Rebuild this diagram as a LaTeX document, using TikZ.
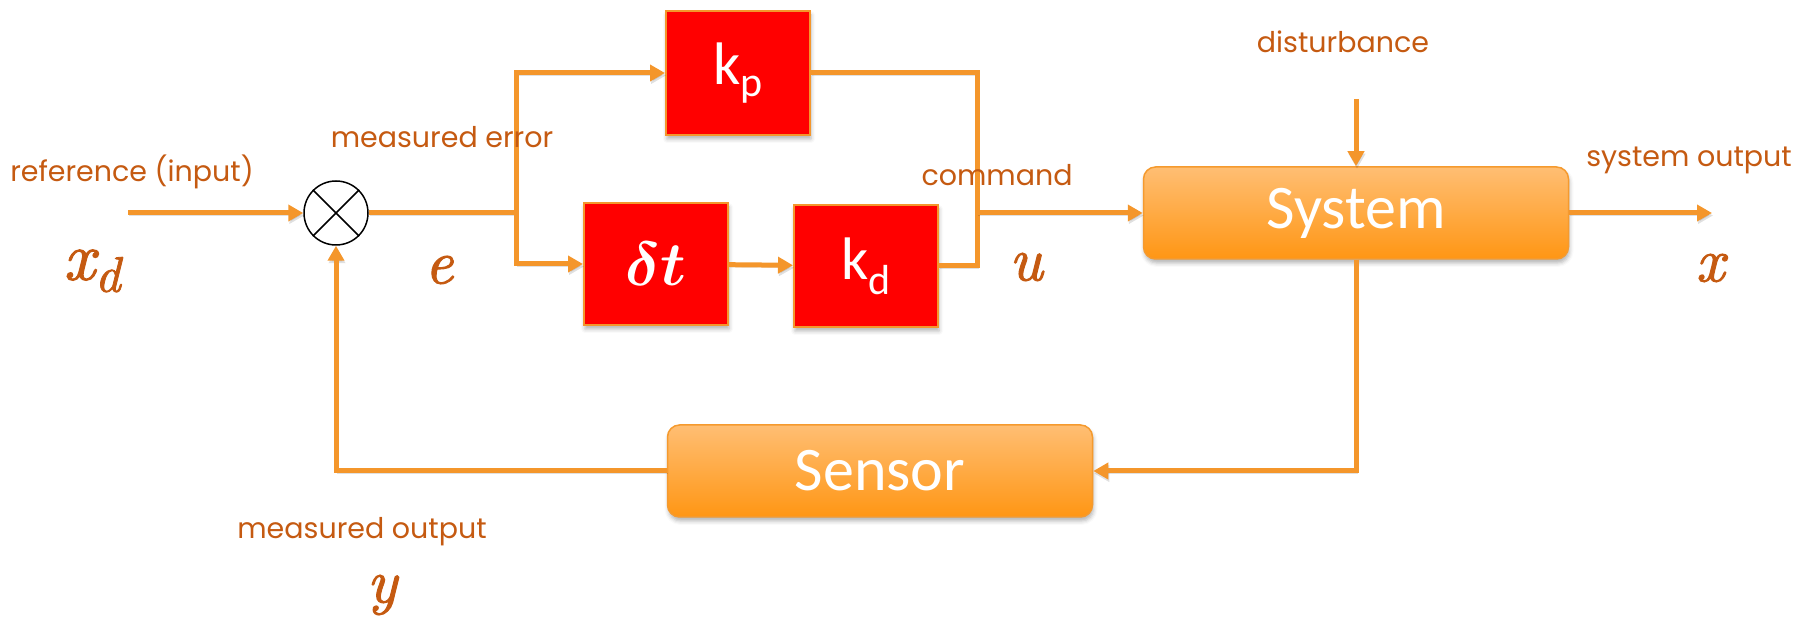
\documentclass[tikz,border=0pt]{standalone}
\usepackage{fix-cm}
\usepackage{bm}
\usepackage{fontspec}
\setmainfont{Poppins}
\newfontfamily\blockfont{Carlito}
\newfontfamily\varfont[FakeBold=1.6]{lmroman10-italic.otf}
\usetikzlibrary{arrows.meta,positioning,calc,shadows.blur}
\definecolor{wire}{HTML}{F4962B}
\definecolor{rust}{HTML}{C55A11}
\definecolor{gain}{HTML}{FF0000}
\definecolor{plantTop}{HTML}{FFBE73}
\definecolor{plantBot}{HTML}{FF9614}
\definecolor{plantLine}{HTML}{F59A2E}
\newcommand{\lowsub}[3]{\raisebox{-#2}{\fontsize{#3}{#3}\selectfont #1}}
\tikzset{
  wire/.style={line width=5pt,draw=wire,preaction={draw=black,opacity=0.12,transform canvas={xshift=1pt,yshift=-2.5pt}}},
  flow/.style={wire,-{Triangle[length=15pt,width=16pt]}},
  tag/.style={text=rust,inner sep=0pt,font=\fontsize{28.5}{32}\selectfont},
  sym/.style={text=rust,inner sep=0pt,font=\varfont\fontsize{62}{66}\selectfont},
  gainbox/.style={draw=wire,line width=2pt,fill=gain,minimum width=144pt,minimum height=122pt,text=white,font=\blockfont\fontsize{60}{64}\selectfont,blur shadow={shadow xshift=1pt,shadow yshift=-4pt,shadow blur radius=4pt,shadow opacity=30}},
  block/.style={draw=plantLine,line width=1.5pt,rounded corners=12pt,top color=plantTop,bottom color=plantBot,minimum width=425pt,minimum height=92pt,text=white,font=\blockfont\fontsize{62}{66}\selectfont,blur shadow={shadow xshift=1pt,shadow yshift=-4pt,shadow blur radius=4pt,shadow opacity=30}},
  summer/.style={circle,draw=black,line width=1.5pt,fill=white,minimum size=64pt,inner sep=0pt}
}
\begin{document}
\begin{tikzpicture}[x=1pt,y=1pt]
    \useasboundingbox (0,0) rectangle (1793,621);
    \node[summer] (sum) at (336,408) {};
    \draw[line width=1.5pt] (sum.45) -- (sum.225) (sum.135) -- (sum.-45);
    \coordinate (in) at (128,408);
    \coordinate (split) at (516,408);
    \coordinate (merge) at (977,408);

    \node[gainbox,minimum height=124pt] (kp) at (738,548) {k\lowsub{p}{12pt}{42}};
    \node[gainbox,font=\fontsize{62}{66}\selectfont] (dt) at (656,357) {$\bm{\delta t}$};
    \node[gainbox] (kd) at (866,355) {k\lowsub{d}{15pt}{42}};
    \node[block] (system) at (1356,408) {System};
    \node[block] (sensor) at (880,150) {Sensor};
    \coordinate (dist) at (1356,522);
    \coordinate (out) at (1712,408);

    \draw[flow] (in) -- (sum);
    \draw[wire] (sum) -- (split);
    \draw[flow] (split) |- (kp);
    \draw[flow] (split) |- (dt);
    \draw[flow] (dt) -- (kd);
    \draw[wire] (kp) -| (merge);
    \draw[wire] (kd) -| (merge);
    \draw[flow] (merge) -- (system);
    \draw[flow] (dist) -- (system);
    \draw[flow] (system) -- (out);
    \draw[flow] (system) |- (sensor);
    \draw[flow] (sensor) -| (sum);

    \node[tag] (reflabel) at (132,449) {reference (input)};
    \node[sym,font=\varfont\fontsize{68}{70}\selectfont] (xd) at (92,350) {x\lowsub{d}{12pt}{50}};
    \node[tag] (errlabel) at (442,484) {measured error};
    \node[sym] (elabel) at (439,351) {e};
    \node[tag] (cmdlabel) at (997,446) {command};
    \node[sym] (ulabel) at (1026,354) {u};
    \node[tag] (distlabel) at (1343,579) {disturbance};
    \node[tag] (outlabel) at (1689,461) {system output};
    \node[sym] (xlabel) at (1710,353) {x};
    \node[tag] (measlabel) at (362,89) {measured output};
    \node[sym] (ylabel) at (382,26) {y};
\end{tikzpicture}
\end{document}
